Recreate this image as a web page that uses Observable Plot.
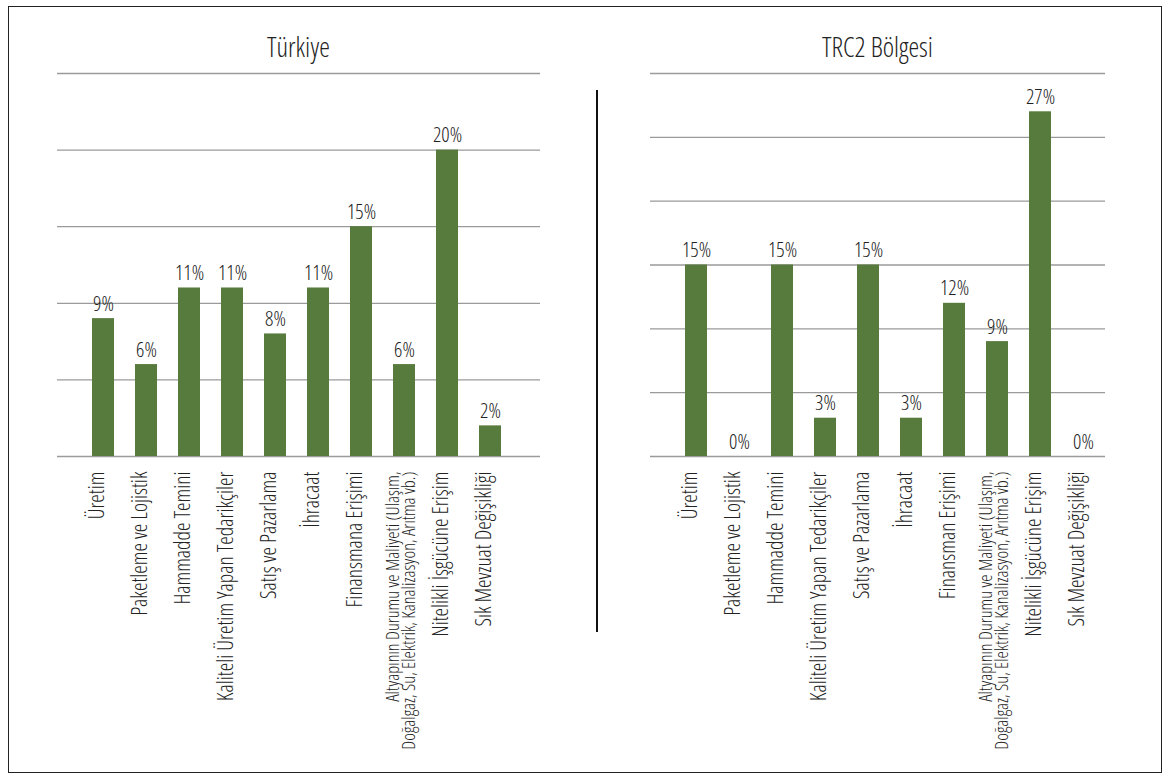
<!DOCTYPE html>
<html>
<head>
<meta charset="utf-8">
<script src="https://cdn.jsdelivr.net/npm/d3@7"></script>
<script src="https://cdn.jsdelivr.net/npm/@observablehq/plot@0.6"></script>
<style>
  html, body { margin: 0; padding: 0; background: #fff; }
  #root { position: relative; width: 1171px; height: 778px; background: #fff;
    font-family: "Open Sans", sans-serif; font-stretch: 75%; font-weight: 300; color: #222; }
  .frame { position: absolute; left: 8px; top: 6px; width: 1152px; height: 765px; border: 1.5px solid #222; }
  .title { position: absolute; top: 29px; font-size: 27px; text-align: center; line-height: 36px; color: #222; }
  .divider { position: absolute; left: 596px; top: 90px; width: 2px; height: 542px; background: #111; }
  .panel { position: absolute; top: 0; }
  .panel svg { font-family: "Open Sans", sans-serif; font-stretch: 75%; font-weight: 300; }
  .panel svg text { font-stretch: 75%; font-weight: 300; }
</style>
</head>
<body>
<div id="root">
  <div class="frame"></div>
  <div class="title" style="left:57px;width:483px;">Türkiye</div>
  <div class="title" style="left:650px;width:455px;">TRC2 Bölgesi</div>
  <div class="divider"></div>
  <div class="panel" id="left" style="left:0px;"></div>
  <div class="panel" id="right" style="left:597px;"></div>
</div>
<script>
// ---- Data ----
const categoriesTR = [
  "Üretim",
  "Paketleme ve Lojistik",
  "Hammadde Temini",
  "Kaliteli Üretim Yapan Tedarikçiler",
  "Satış ve Pazarlama",
  "İhracaat",
  "Finansmana Erişimi",
  "Altyapının Durumu ve Maliyeti (Ulaşım,\nDoğalgaz, Su, Elektrik, Kanalizasyon, Arıtma vb.)",
  "Nitelikli İşgücüne Erişim",
  "Sık Mevzuat Değişikliği"
];
const valuesTR = [9, 6, 11, 11, 8, 11, 15, 6, 20, 2];
const gridTR = [0, 5, 10, 15, 20, 25];

const categoriesTRC2 = [
  "Üretim",
  "Paketleme ve Lojistik",
  "Hammadde Temini",
  "Kaliteli Üretim Yapan Tedarikçiler",
  "Satış ve Pazarlama",
  "İhracaat",
  "Finansman Erişimi",
  "Altyapının Durumu ve Maliyeti (Ulaşım,\nDoğalgaz, Su, Elektrik, Kanalizasyon, Arıtma vb.)",
  "Nitelikli İşgücüne Erişim",
  "Sık Mevzuat Değişikliği"
];
const valuesTRC2 = [15, 0, 15, 3, 15, 3, 12, 9, 27, 0];
const gridTRC2 = [0, 5, 10, 15, 20, 25, 30];

const GREEN = "#567b3d";
const TEXT = "#222";
const GRID = "#9a9a9a";

function panel(categories, values, grid, opts) {
  const data = categories.map((c, i) => ({cat: c, value: values[i]}));
  const single = categories.filter(c => !c.includes("\n"));
  const multi = categories.filter(c => c.includes("\n"));
  return Plot.plot({
    width: opts.width,
    height: 778,
    marginLeft: opts.marginLeft,
    marginRight: opts.marginRight,
    marginTop: 73,
    marginBottom: 322,
    style: {background: "transparent", color: TEXT, fontFamily: "'Open Sans', sans-serif"},
    x: {domain: categories, range: opts.xRange, paddingInner: 0.48, paddingOuter: 0.24, axis: null},
    y: {domain: [0, grid[grid.length - 1]], axis: null},
    marks: [
      Plot.ruleY(grid, {stroke: GRID, strokeWidth: 1.3}),
      Plot.barY(data, {x: "cat", y: "value", fill: GREEN}),
      Plot.text(data, {x: "cat", y: "value", text: d => d.value + "%", lineAnchor: "bottom", dy: -8, fontSize: 20.5, fill: TEXT}),
      Plot.text(single, {
        x: d => d, frameAnchor: "bottom", rotate: -90, textAnchor: "end", dy: 15,
        fontSize: 21.5, fill: TEXT
      }),
      Plot.text(multi, {
        x: d => d, frameAnchor: "bottom", rotate: -90, textAnchor: "end", dy: 15, dx: 10,
        fontSize: 18.3, lineHeight: 0.86, fill: TEXT
      })
    ]
  });
}

document.getElementById("left").appendChild(
  panel(categoriesTR, valuesTR, gridTR, {width: 597, marginLeft: 57, marginRight: 57, xRange: [78, 516]})
);
document.getElementById("right").appendChild(
  panel(categoriesTRC2, valuesTRC2, gridTRC2, {width: 574, marginLeft: 53, marginRight: 66, xRange: [73, 512]})
);
</script>
</body>
</html>
